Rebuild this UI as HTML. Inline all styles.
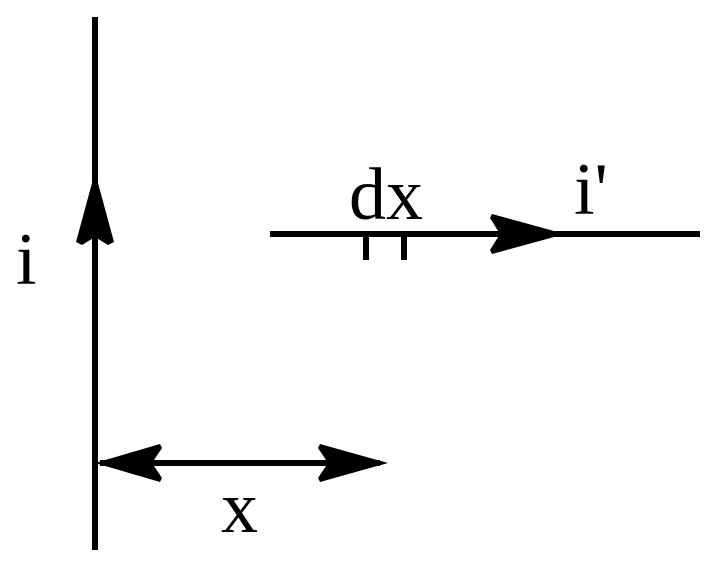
<!DOCTYPE html>
<html><head><style>body{margin:0;background:#fff}svg{display:block}</style></head><body>
<svg width="719" height="569" viewBox="0 0 719 569" xmlns="http://www.w3.org/2000/svg">
<g stroke="#000" stroke-width="6" fill="none">
<line x1="95" y1="17" x2="95" y2="550"/>
<line x1="270" y1="234" x2="700" y2="234"/>
<line x1="366" y1="234" x2="366" y2="260"/>
<line x1="404" y1="234" x2="404" y2="260"/>
<line x1="100" y1="463" x2="380" y2="463"/>
</g>
<g fill="#000">
<polygon points="95,172 114,242 108,245 95,237 82,245 76,242"/>
<polygon points="565,234 492,214 490,218 500,234 490,250 492,254"/>
<polygon points="95,463 160,444 162,448 152,463 162,478 160,482"/>
<polygon points="388,463 320,444 318,448 328,463 318,478 320,482"/>
</g>
<g font-family="Liberation Serif, serif" font-size="74" fill="#000">
<text x="16" y="284">i</text>
<text x="349" y="219">dx</text>
<text x="574" y="214">i'</text>
<text x="221" y="532">x</text>
</g>
</svg>
</body></html>
